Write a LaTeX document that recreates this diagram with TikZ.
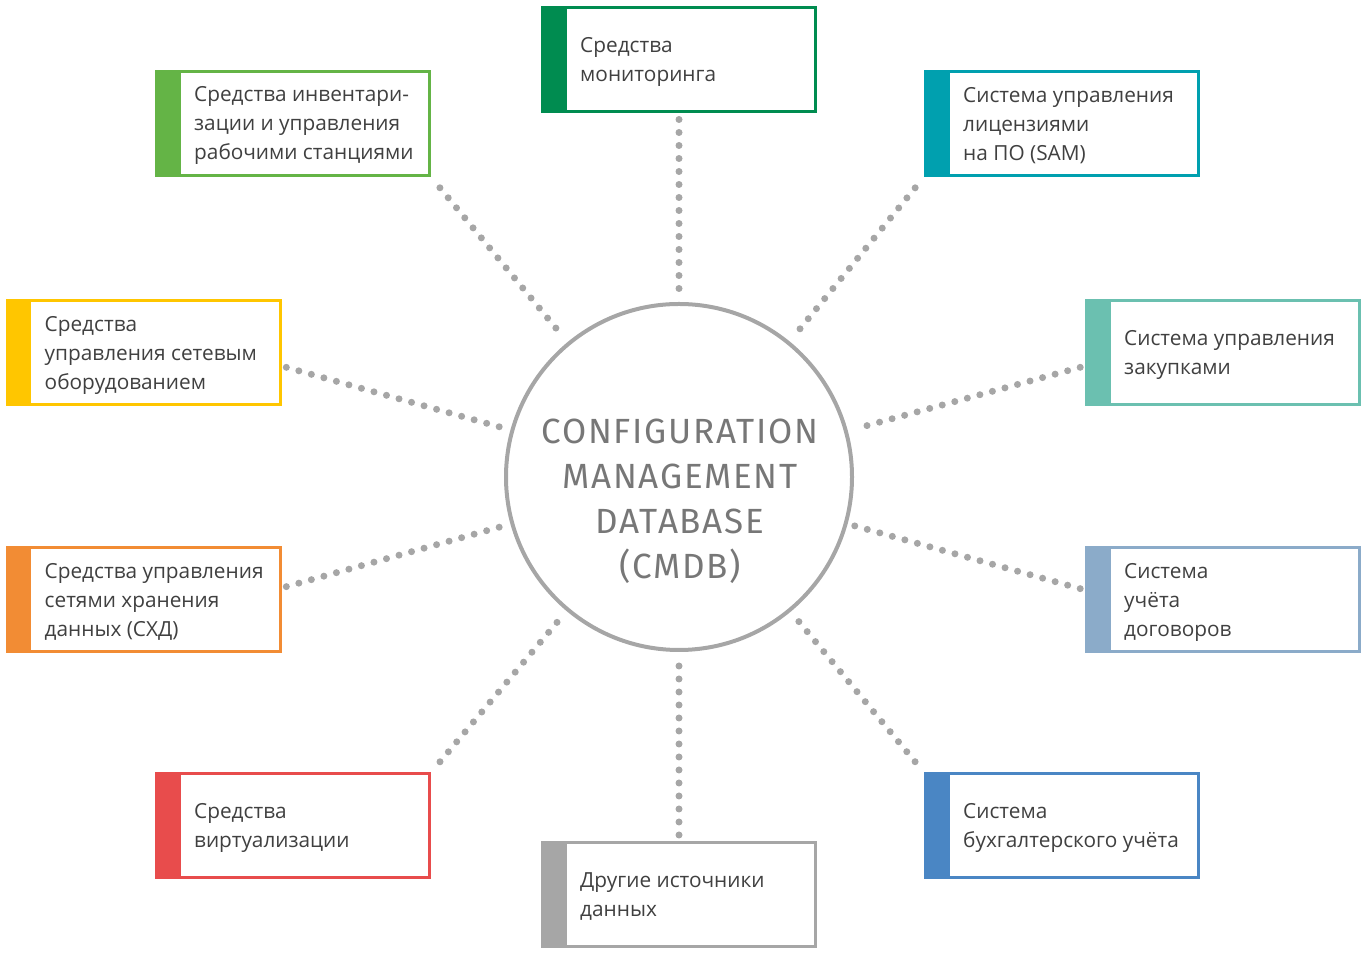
\documentclass[tikz,border=0pt]{standalone}
\usepackage{fontspec}
\setmainfont{Open Sans}
\newfontfamily\dbfont[LetterSpace=5]{Fira Sans}
\usetikzlibrary{calc}
\definecolor{cMon}{HTML}{008C50}
\definecolor{cInv}{HTML}{64B446}
\definecolor{cSam}{HTML}{00A0AF}
\definecolor{cNet}{HTML}{FFC600}
\definecolor{cProc}{HTML}{6BC0B0}
\definecolor{cStor}{HTML}{F28C34}
\definecolor{cContr}{HTML}{8BABC9}
\definecolor{cVirt}{HTML}{E84C4C}
\definecolor{cOther}{HTML}{A6A6A6}
\definecolor{cAcct}{HTML}{4A86C4}
\definecolor{cLine}{HTML}{A6A6A6}
\definecolor{cTxt}{HTML}{404040}
\definecolor{cDb}{HTML}{777777}
\tikzset{
  srcbox/.style={rectangle, draw=#1, line width=3pt, minimum width=273pt, minimum height=104pt, inner sep=0pt,
    path picture={\fill[#1] (path picture bounding box.south west) rectangle ([xshift=24pt]path picture bounding box.north west);}},
  srctxt/.style={anchor=west, inner sep=0pt, align=left, text=cTxt, font=\fontsize{20.8}{29}\selectfont},
  dots/.style={draw=cLine, line width=7pt, dash pattern=on 0pt off 13pt, line cap=round, shorten >=7pt},
}
\begin{document}
\begin{tikzpicture}[x=1pt,y=1pt]
\useasboundingbox (0,0) rectangle (1368,955);
\node[circle, draw=cLine, line width=4pt, minimum size=346pt, inner sep=0pt] (db) at (679,478) {};
\node[align=center, text=cDb, font=\dbfont\fontsize{35}{45}\selectfont] (dbt) at (680,454) {CONFIGURATION\\MANAGEMENT\\DATABASE\\(CMDB)};

\node[srcbox=cMon] (mon) at (679,895) {};
\node[srctxt] (mont) at ([xshift=39pt,yshift=-2pt]mon.west) {Средства\\мониторинга};
\node[srcbox=cInv] (inv) at (293,831.5) {};
\node[srctxt] (invt) at ([xshift=39pt,yshift=-2pt]inv.west) {Средства инвентари-\\зации и управления\\рабочими станциями};
\node[srcbox=cSam] (sam) at (1062,831.5) {};
\node[srctxt] (samt) at ([xshift=39pt,yshift=-2pt]sam.west) {Система управления\\лицензиями\\на ПО (SAM)};
\node[srcbox=cNet] (net) at (143.5,602) {};
\node[srctxt] (nett) at ([xshift=39pt,yshift=-2pt]net.west) {Средства\\управления сетевым\\оборудованием};
\node[srcbox=cProc] (proc) at (1223,602) {};
\node[srctxt] (proct) at ([xshift=39pt,yshift=-2pt]proc.west) {Система управления\\закупками};
\node[srcbox=cStor] (stor) at (143.5,355) {};
\node[srctxt] (stort) at ([xshift=39pt,yshift=-2pt]stor.west) {Средства управления\\сетями хранения\\данных (СХД)};
\node[srcbox=cContr] (contr) at (1223,355) {};
\node[srctxt] (contrt) at ([xshift=39pt,yshift=-2pt]contr.west) {Система\\учёта\\договоров};
\node[srcbox=cVirt] (virt) at (293,129) {};
\node[srctxt] (virtt) at ([xshift=39pt,yshift=-2pt]virt.west) {Средства\\виртуализации};
\node[srcbox=cOther] (other) at (679,60.5) {};
\node[srctxt] (othert) at ([xshift=39pt,yshift=-2pt]other.west) {Другие источники\\данных};
\node[srcbox=cAcct] (acct) at (1062,129) {};
\node[srctxt] (acctt) at ([xshift=39pt,yshift=-2pt]acct.west) {Система\\бухгалтерского учёта};

\draw[dots, shorten <=6pt] (mon.south) -- (db);
\draw[dots, shorten <=6pt] (other.north) -- (db);
\draw[dots, shorten <=14pt] (inv.south east) -- (db);
\draw[dots, shorten <=14pt] (sam.south west) -- (db);
\draw[dots, shorten <=14pt] (virt.north east) -- (db);
\draw[dots, shorten <=14pt] (acct.north west) -- (db);
\draw[dots, shorten <=5pt] ([yshift=-13pt]net.east) -- (db);
\draw[dots, shorten <=5pt] ([yshift=-13pt]proc.west) -- (db);
\draw[dots, shorten <=5pt] ([yshift=12pt]stor.east) -- (db);
\draw[dots, shorten <=5pt] ([yshift=10pt]contr.west) -- (db);
\end{tikzpicture}
\end{document}
